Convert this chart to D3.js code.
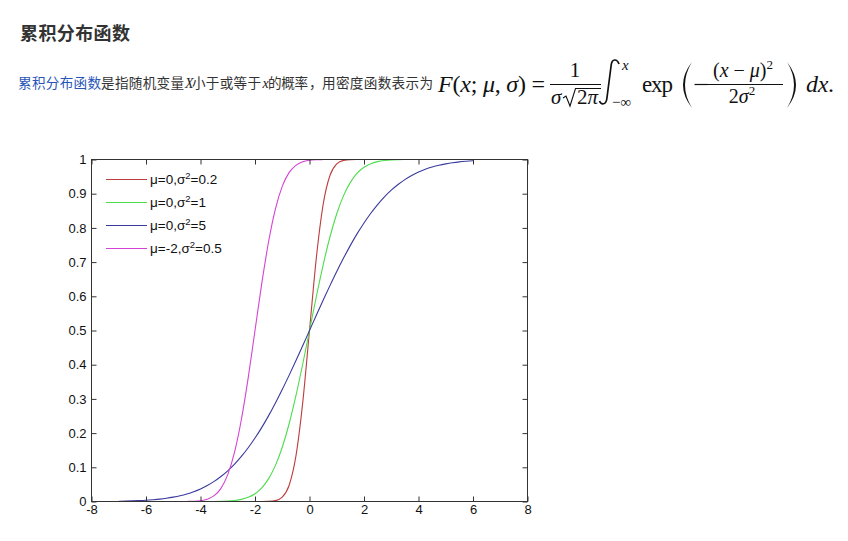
<!DOCTYPE html>
<html><head><meta charset="utf-8">
<script src="https://cdn.jsdelivr.net/npm/d3@7"></script>
<style>body{margin:0;background:#fff}</style>
</head><body><svg id="c" width="848" height="541"></svg>
<script>
// ---- data ----
const xs = [-7,-6.75,-6.5,-6.25,-6,-5.75,-5.5,-5.25,-5,-4.75,-4.5,-4.25,-4,-3.75,-3.5,-3.25,-3,-2.75,-2.5,-2.25,-2,-1.75,-1.5,-1.25,-1,-0.75,-0.5,-0.25,0,0.25,0.5,0.75,1,1.25,1.5,1.75,2,2.25,2.5,2.75,3,3.25,3.5,3.75,4,4.25,4.5,4.75,5,5.25,5.5,5.75,6];
const red = [0,0,0,0,0,0,0,0,0,0,0,0,0,0,0,0,0,0,0,0,0,0,0.0004,0.0026,0.0127,0.0468,0.1318,0.2883,0.5,0.7117,0.8682,0.9532,0.9873,0.9974,0.9996,1,1,1,1,1,1,1,1,1,1,1,1,1,1,1,1,1,1];
const green = [0,0,0,0,0,0,0,0,0,0,0,0,0,0.0001,0.0002,0.0006,0.0013,0.0030,0.0062,0.0122,0.0228,0.0401,0.0668,0.1056,0.1587,0.2266,0.3085,0.4013,0.5,0.5987,0.6915,0.7734,0.8413,0.8944,0.9332,0.9599,0.9772,0.9878,0.9938,0.9970,0.9987,0.9994,0.9998,0.9999,1,1,1,1,1,1,1,1,1];
const blue = [0.0009,0.0013,0.0018,0.0026,0.0036,0.0051,0.0069,0.0094,0.0127,0.0168,0.0221,0.0287,0.0368,0.0468,0.0588,0.0731,0.0898,0.1093,0.1318,0.1572,0.1856,0.2168,0.2511,0.2883,0.3274,0.3688,0.4115,0.4554,0.5,0.5446,0.5885,0.6312,0.6726,0.7117,0.7489,0.7832,0.8144,0.8428,0.8682,0.8907,0.9102,0.9269,0.9412,0.9532,0.9632,0.9713,0.9779,0.9832,0.9873,0.9906,0.9931,0.9949,0.9964];
const magenta = [0,0,0,0,0,0,0,0,0,0,0.0002,0.0007,0.0023,0.0067,0.0170,0.0385,0.0786,0.1444,0.2398,0.3617,0.5,0.6383,0.7602,0.8556,0.9214,0.9615,0.9830,0.9933,0.9977,0.9993,0.9998,1,1,1,1,1,1,1,1,1,1,1,1,1,1,1,1,1,1,1,1,1,1];
const legendMu = ["0","0","0","-2"];
const legendVar = ["0.2","1","5","0.5"];
const seriesColors = ["#bd3d3d","#4ddc4d","#3a3a9e","#d444d4"];
const xTicks = [-8,-6,-4,-2,0,2,4,6,8];
const yTicks = [0,0.1,0.2,0.3,0.4,0.5,0.6,0.7,0.8,0.9,1];
const yTickLabels = ["0","0.1","0.2","0.3","0.4","0.5","0.6","0.7","0.8","0.9","1"];

const svg = d3.select("#c");
svg.append("rect").attr("width",848).attr("height",541).attr("fill","#fff");

// ---- heading & paragraph ----
const cjk = '"Noto Sans CJK SC","Microsoft YaHei",sans-serif';
const serif = '"Liberation Serif","DejaVu Serif",serif';
svg.append("text").attr("x",20).attr("y",40).attr("font-family",cjk).attr("font-size",18)
  .attr("font-weight","bold").attr("fill","#333").attr("textLength",110).text("累积分布函数");

const para = [
  {t:"累积分布函数", x:18, w:83, c:"#2a55b8"},
  {t:"是指随机变量", x:101, w:83, c:"#333"},
  {t:"X", x:185, it:true},
  {t:"小于或等于", x:192, w:69, c:"#333"},
  {t:"x", x:262.5, it:true},
  {t:"的概率", x:268, w:40, c:"#333"},
  {t:"，", x:309, w:13, c:"#333"},
  {t:"用密度函数表示为", x:322, w:111, c:"#333"}
];
para.forEach(p=>{
  const t = svg.append("text").attr("x",p.x).attr("y",87.5).text(p.t);
  if(p.it){ t.attr("font-family",serif).attr("font-style","italic").attr("font-size",14).attr("fill","#222"); }
  else { t.attr("font-family",cjk).attr("font-size",13.6).attr("fill",p.c).attr("textLength",p.w); }
});

// ---- formula ----
const fm = svg.append("g").attr("font-family",serif).attr("fill","#111");
function mtext(x,y,size,parts,opts={}){
  const t = fm.append("text").attr("x",x).attr("y",y).attr("font-size",size);
  if(opts.anchor) t.attr("text-anchor",opts.anchor);
  if(opts.len) t.attr("textLength",opts.len).attr("lengthAdjust","spacing");
  parts.forEach(p=>{
    const s = t.append("tspan").text(p[0]);
    if(p[1]==="i") s.attr("font-style","italic");
    if(p[1]==="sup") s.attr("font-size",size*0.65).attr("dy",-size*0.42);
  });
  return t;
}
mtext(438,92,24,[["F","i"],["("],["x","i"],["; "],["μ","i"],[", "],["σ","i"],[") ="]],{len:107});
mtext(575,77,21,[["1"]],{anchor:"middle"});
fm.append("line").attr("x1",550).attr("x2",601).attr("y1",84.5).attr("y2",84.5).attr("stroke","#111").attr("stroke-width",1);
mtext(551,104,21,[["σ","i"]]);
fm.append("path").attr("d","M563,98 L566,96 L570,106 L575.5,88.5 L601,88.5").attr("fill","none").attr("stroke","#111").attr("stroke-width",1.1);
mtext(577,104,21,[["2"],["π","i"]]);
fm.append("path").attr("d","M619,64 C617,58.5 612,58.5 611.2,65 L606.8,99 C606,105 601,105 599.5,101")
  .attr("fill","none").attr("stroke","#111").attr("stroke-width",1.7);
mtext(622,70,15,[["x","i"]]);
mtext(612,107,15,[["−∞"]]);
mtext(642,92,23,[["exp"]],{len:31});
fm.append("path").attr("d","M692,62 Q674,85 692,108 Q678,85 692,62 Z").attr("fill","#111");
fm.append("line").attr("x1",694.5).attr("x2",707.5).attr("y1",84.5).attr("y2",84.5).attr("stroke","#111").attr("stroke-width",1.2);
mtext(743,77,20,[["("],["x","i"],[" − "],["μ","i"],[")"],["2","sup"]],{anchor:"middle"});
fm.append("line").attr("x1",703).attr("x2",783).attr("y1",84.5).attr("y2",84.5).attr("stroke","#111").attr("stroke-width",1);
mtext(742,103,20,[["2"],["σ","i"],["2","sup"]],{anchor:"middle"});
fm.append("path").attr("d","M787,62 Q805,85 787,108 Q801,85 787,62 Z").attr("fill","#111");
mtext(806,92,24,[["dx","i"],["."]],{len:28});

// ---- chart ----
const x = d3.scaleLinear().domain([-8,8]).range([91.5,527.5]);
const y = d3.scaleLinear().domain([0,1]).range([501.5,159.5]);
const chart = svg.append("g");

const line = d3.line().x((d,i)=>x(xs[i])).y(d=>y(d)).curve(d3.curveMonotoneX);
[red,green,blue,magenta].forEach((s,k)=>{
  chart.append("path").datum(s).attr("d",line).attr("fill","none")
    .attr("stroke",seriesColors[k]).attr("stroke-width",1.1);
});

const axFont = '"Liberation Sans",Arial,sans-serif';
function styleAxis(g){
  g.select(".domain").remove();
  g.selectAll(".tick line").attr("stroke","#333");
  g.selectAll(".tick text").attr("font-family",axFont).attr("font-size",13).attr("fill","#111");
}
chart.append("g").attr("transform",`translate(0,${y(0)})`)
  .call(d3.axisBottom(x).tickValues(xTicks).tickSize(-5).tickPadding(3).tickFormat(d=>String(d).replace("−","-")))
  .call(styleAxis);
chart.append("g").attr("transform",`translate(0,${y(1)})`)
  .call(d3.axisTop(x).tickValues(xTicks).tickSize(-5).tickFormat(""))
  .call(styleAxis);
chart.append("g").attr("transform",`translate(${x(-8)},0)`)
  .call(d3.axisLeft(y).tickValues(yTicks).tickSize(-5).tickPadding(5).tickFormat((d,i)=>yTickLabels[i]))
  .call(styleAxis);
chart.append("g").attr("transform",`translate(${x(8)},0)`)
  .call(d3.axisRight(y).tickValues(yTicks).tickSize(-5).tickFormat(""))
  .call(styleAxis);
chart.append("rect").attr("x",x(-8)).attr("y",y(1)).attr("width",x(8)-x(-8)).attr("height",y(0)-y(1))
  .attr("fill","none").attr("stroke","#333").attr("stroke-width",1);

// legend
const lg = chart.append("g");
legendMu.forEach((m,i)=>{
  const cy = 179.5 + i*23;
  lg.append("line").attr("x1",106).attr("x2",147).attr("y1",cy).attr("y2",cy)
    .attr("stroke",seriesColors[i]).attr("stroke-width",1.1);
  const t = lg.append("text").attr("x",150).attr("y",cy+4.5).attr("font-family",axFont)
    .attr("font-size",13.5).attr("fill","#111");
  t.append("tspan").text("μ="+m+",σ");
  t.append("tspan").attr("font-size",9.5).attr("dy",-5).text("2");
  t.append("tspan").attr("dy",5).text("="+legendVar[i]);
});
</script></body></html>
